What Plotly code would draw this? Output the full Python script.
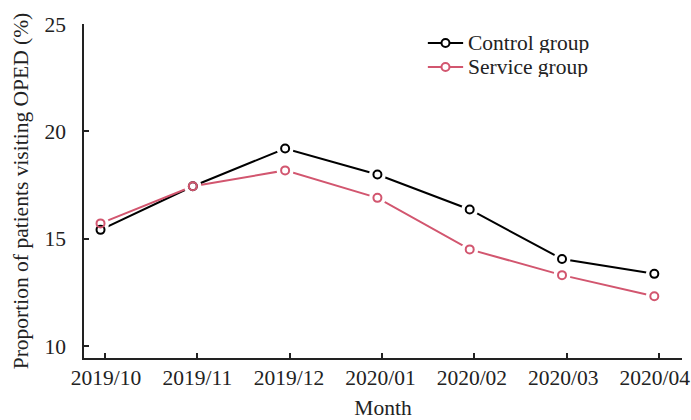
import plotly.graph_objects as go

months = ["2019/10", "2019/11", "2019/12", "2020/01", "2020/02", "2020/03", "2020/04"]
control = [15.41, 17.44, 19.20, 17.99, 16.36, 14.05, 13.36]
service = [15.71, 17.44, 18.18, 16.90, 14.50, 13.30, 12.32]
series_names = ["Control group", "Service group"]
y_ticks = [10, 15, 20, 25]

BLACK = "#000000"
PINK = "#d2566f"
TXT = "#222222"
FONT = "Liberation Serif, Times New Roman, serif"
FS = 21.5

xi = list(range(len(months)))
tick_pos = [i + 0.049 for i in xi]

fig = go.Figure()
for vals, col in [(control, BLACK), (service, PINK)]:
    fig.add_trace(go.Scatter(x=xi, y=vals, mode="lines", showlegend=False,
                             line=dict(color=col, width=2)))
for vals in [control, service]:
    fig.add_trace(go.Scatter(x=xi, y=vals, mode="markers", showlegend=False, hoverinfo="skip",
                             marker=dict(symbol="circle", size=17, color="white", line=dict(width=0))))
for name, vals, col in [(series_names[0], control, BLACK), (series_names[1], service, PINK)]:
    fig.add_trace(go.Scatter(x=xi, y=vals, mode="markers", name=name, showlegend=False,
                             marker=dict(symbol="circle-open", size=8, color=col, line=dict(width=2))))
# invisible trace to activate label axis
fig.add_trace(go.Scatter(x=[xi[0]], y=[control[0]], xaxis="x2", mode="markers",
                         marker=dict(opacity=0), showlegend=False, hoverinfo="skip"))

# manual legend (compact rows as in reference)
leg_rows = [0.943, 0.871]
for (name, col), yy in zip([(series_names[0], BLACK), (series_names[1], PINK)], leg_rows):
    fig.add_shape(type="line", xref="paper", yref="paper", x0=0.575, x1=0.634, y0=yy, y1=yy,
                  line=dict(color=col, width=2))
    fig.add_shape(type="circle", xref="paper", yref="paper", xsizemode="pixel", ysizemode="pixel",
                  xanchor=0.6045, yanchor=yy, x0=-4, x1=4, y0=-4, y1=4,
                  fillcolor="white", line=dict(color=col, width=2))
    fig.add_annotation(text=name, xref="paper", yref="paper", x=0.641, y=yy,
                       xanchor="left", yanchor="middle", showarrow=False,
                       height=20, borderpad=0, valign="middle",
                       font=dict(family=FONT, size=FS, color=TXT))

fig.update_layout(
    width=691, height=420,
    margin=dict(l=84, r=9, t=24, b=62),
    plot_bgcolor="white", paper_bgcolor="white",
    font=dict(family=FONT, size=FS, color=TXT),
    showlegend=False,
    xaxis=dict(range=[-0.179, 6.30], tickvals=tick_pos, showticklabels=False,
               showgrid=False, zeroline=False, showline=True, linecolor=TXT, linewidth=1.5,
               ticks="inside", ticklen=5, tickwidth=1.5, tickcolor=TXT,
               automargin=False),
    xaxis2=dict(range=[-0.240, 6.297], overlaying="x", side="bottom", anchor="y",
                tickvals=xi, ticktext=months, showgrid=False, zeroline=False, showline=False,
                ticks="", automargin=False, ticklabeloverflow="allow", ticklabelstandoff=4,
                title=dict(text="Month", standoff=14, font=dict(size=FS)),
                tickfont=dict(size=FS)),
    yaxis=dict(range=[9.44, 25], tickvals=y_ticks,
               showgrid=False, zeroline=False, showline=True, linecolor=TXT, linewidth=1.5,
               ticks="inside", ticklen=5, tickwidth=1.5, tickcolor=TXT,
               ticklabelstandoff=12, automargin=False, ticklabeloverflow="allow",
               title=dict(text="Proportion of patients visiting OPED (%)", standoff=10, font=dict(size=FS)),
               tickfont=dict(size=FS)),
)

fig.write_html("out.html", config={"displayModeBar": False})

with open("out.html", "r", encoding="utf-8") as f:
    html = f.read()
html = html.replace("<head>", "<head><style>html,body{margin:0;padding:0;overflow:hidden;}</style>", 1)
with open("out.html", "w", encoding="utf-8") as f:
    f.write(html)
